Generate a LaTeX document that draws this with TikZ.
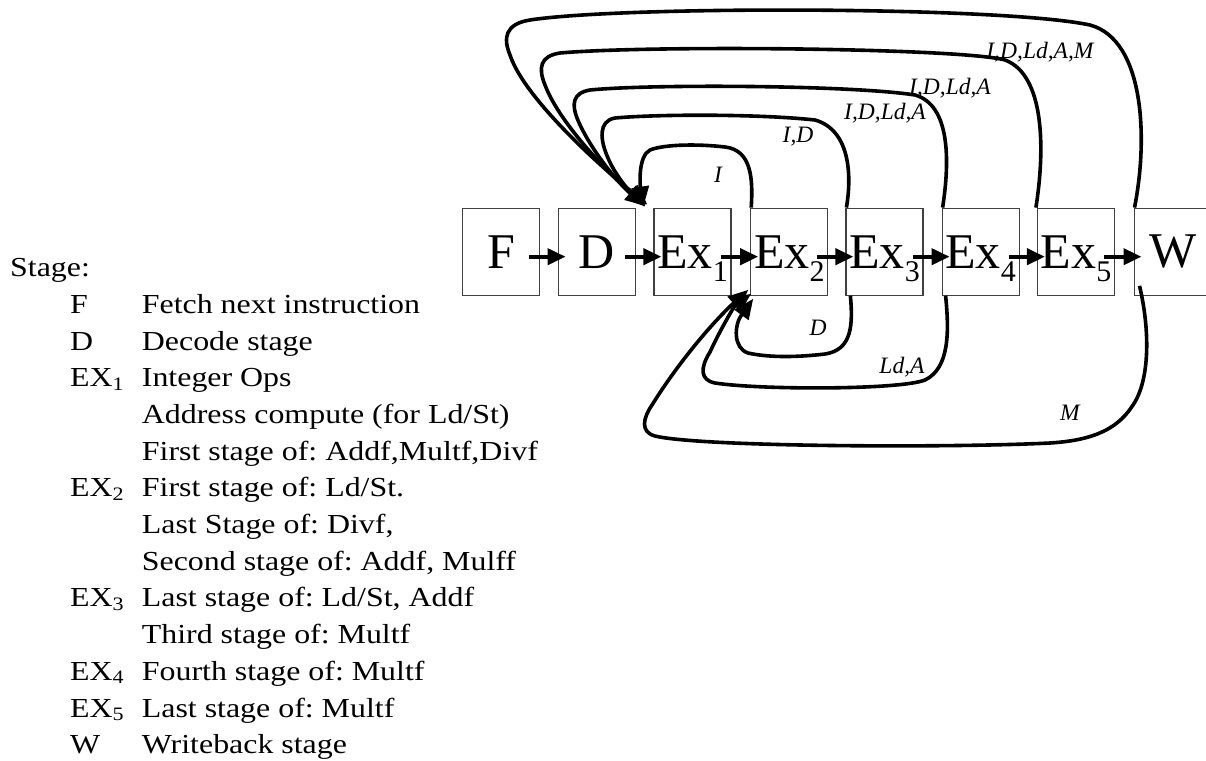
\documentclass[tikz,border=0pt]{standalone}
\usepackage{fontspec}
\setmainfont{Liberation Serif}
\newfontfamily\legfont[FakeStretch=1.16]{Liberation Serif}
\usetikzlibrary{arrows.meta,calc}
\newcommand\exsub[1]{\smash{\raisebox{-13pt}{\fontsize{30}{30}\selectfont #1}}}
\newcommand\lgsub[1]{\raisebox{-3.5pt}{\fontsize{19}{19}\selectfont #1}}
\begin{document}
\frenchspacing
\begin{tikzpicture}[x=1pt,y=-1pt,
 stagebox/.style={draw=black!75,line width=1.2pt,minimum width=77pt,minimum height=87pt,inner sep=0pt,font=\fontsize{50}{50}\selectfont},
 pipe/.style={line width=4pt,-{Triangle[length=18pt,width=16pt]}},
 fwd/.style={line width=3.6pt,-{Triangle[length=20pt,width=17pt]}},
 lbl/.style={font=\fontsize{23.5}{24}\selectfont\itshape,inner sep=0pt},
 leg/.style={anchor=base west,inner sep=0pt,font=\legfont\fontsize{27.5}{33}\selectfont}]
\useasboundingbox (0,0) rectangle (1206,760);
% stage boxes
\node[stagebox] (F)  at (501,251.7) {F};
\node[stagebox] (D)  at (596.7,251.7) {D};
\node[stagebox] (E1) at (692.5,251.7) {Ex\exsub{1}};
\node[stagebox] (E2) at (789.3,251.7) {Ex\exsub{2}};
\node[stagebox] (E3) at (884.5,251.7) {Ex\exsub{3}};
\node[stagebox] (E4) at (980.7,251.7) {Ex\exsub{4}};
\node[stagebox] (E5) at (1076,251.7) {Ex\exsub{5}};
\node[stagebox] (W)  at (1172.6,251.7) {W};
% pipeline arrows
\foreach \a/\b in {F/D,D/E1,E1/E2,E2/E3,E3/E4,E4/E5,E5/W}
  \draw[pipe] ([xshift=-11pt,yshift=-5pt]\a.east) -- ([xshift=8pt,yshift=-5pt]\b.west);
% top forwarding loops
\draw[fwd] ([xshift=1pt]E2.north west) .. controls (753,180) and (752,150) .. (725,147)
  .. controls (700,144) and (665,144) .. (650,150)
  .. controls (638,156) and (640,185) .. ([xshift=-10pt,yshift=1pt]E1.north west);
\draw[fwd] ([xshift=1pt]E3.north west) .. controls (852,175) and (850,130) .. (815,120)
  .. controls (760,114) and (660,114) .. (615,118)
  .. controls (598,121) and (600,140) .. (608,158)
  .. controls (615,175) and (630,192) .. ([xshift=-8pt,yshift=1pt]E1.north west);
\draw[fwd] ([xshift=1pt]E4.north west) .. controls (950,160) and (950,105) .. (915,95)
  .. controls (850,85) and (650,84) .. (590,90)
  .. controls (572,93) and (572,105) .. (577,118)
  .. controls (590,150) and (620,185) .. ([xshift=-8pt,yshift=2pt]E1.north west);
\draw[fwd] ([xshift=-1pt]E5.north west) .. controls (1045,150) and (1045,75) .. (1005,60)
  .. controls (960,48) and (650,45) .. (560,53)
  .. controls (540,56) and (538,68) .. (545,85)
  .. controls (560,125) and (615,180) .. ([xshift=-7pt,yshift=3pt]E1.north west);
\draw[fwd] ([xshift=1pt]W.north west) .. controls (1148,140) and (1145,40) .. (1090,25)
  .. controls (1000,6) and (620,6) .. (530,20)
  .. controls (505,24) and (503,38) .. (510,55)
  .. controls (525,100) and (605,170) .. ([xshift=-6pt,yshift=3pt]E1.north west);
% bottom forwarding loops
\draw[fwd] ([xshift=5pt]E3.south west) .. controls (853,325) and (852,350) .. (825,354)
  .. controls (800,357) and (770,358) .. (748,353)
  .. controls (733,348) and (734,325) .. ([xshift=3pt,yshift=-3pt]E2.south west);
\draw[fwd] ([xshift=4pt]E4.south west) .. controls (949,330) and (950,368) .. (925,380)
  .. controls (900,390) and (760,390) .. (715,383)
  .. controls (700,380) and (700,368) .. (710,352)
  .. controls (720,330) and (735,305) .. ([xshift=1pt,yshift=2pt]E2.south west);
\draw[fwd] ([xshift=6pt,yshift=10pt]W.south west) .. controls (1150,330) and (1150,380) .. (1133,405)
  .. controls (1120,425) and (1100,440) .. (1050,443)
  .. controls (950,448) and (700,447) .. (655,436)
  .. controls (640,432) and (643,418) .. (652,405)
  .. controls (680,360) and (715,320) .. ([xshift=-2pt,yshift=6pt]E2.south west);
% loop labels
\node[lbl] (l1) at (718,175) {I};
\node[lbl] (l2) at (798,137) {I,D};
\node[lbl] (l3) at (885,113) {I,D,Ld,A};
\node[lbl] (l4) at (950,88) {I,D,Ld,A};
\node[lbl] (l5) at (1040,52) {I,D,Ld,A,M};
\node[lbl] (l6) at (818,328) {D};
\node[lbl] (l7) at (902,367) {Ld,A};
\node[lbl] (l8) at (1070,413) {M};
% legend
\node[leg] (st) at (10,276.7) {Stage:};
\node[leg] (a0) at (70,313.3) {F};
\node[leg] (d0) at (141.7,313.3) {Fetch next instruction};
\node[leg] (a1) at (70,350) {D};
\node[leg] (d1) at (141.7,350) {Decode stage};
\node[leg] (a2) at (70,386.7) {EX\lgsub{1}};
\node[leg] (d2) at (141.7,386.7) {Integer Ops};
\node[leg] (d3) at (141.7,423.4) {Address compute (for Ld/St)};
\node[leg] (d4) at (141.7,460.1) {First stage of: Addf,Multf,Divf};
\node[leg] (a5) at (70,496.8) {EX\lgsub{2}};
\node[leg] (d5) at (141.7,496.8) {First stage of: Ld/St.};
\node[leg] (d6) at (141.7,533.5) {Last Stage of: Divf,};
\node[leg] (d7) at (141.7,570.2) {Second stage of: Addf, Mulff};
\node[leg] (a8) at (70,606.9) {EX\lgsub{3}};
\node[leg] (d8) at (141.7,606.9) {Last stage of: Ld/St, Addf};
\node[leg] (d9) at (141.7,643.6) {Third stage of: Multf};
\node[leg] (a10) at (70,680.3) {EX\lgsub{4}};
\node[leg] (d10) at (141.7,680.3) {Fourth stage of: Multf};
\node[leg] (a11) at (70,717) {EX\lgsub{5}};
\node[leg] (d11) at (141.7,717) {Last stage of: Multf};
\node[leg] (a12) at (70,753.7) {W};
\node[leg] (d12) at (141.7,753.7) {Writeback stage};
\end{tikzpicture}
\end{document}
